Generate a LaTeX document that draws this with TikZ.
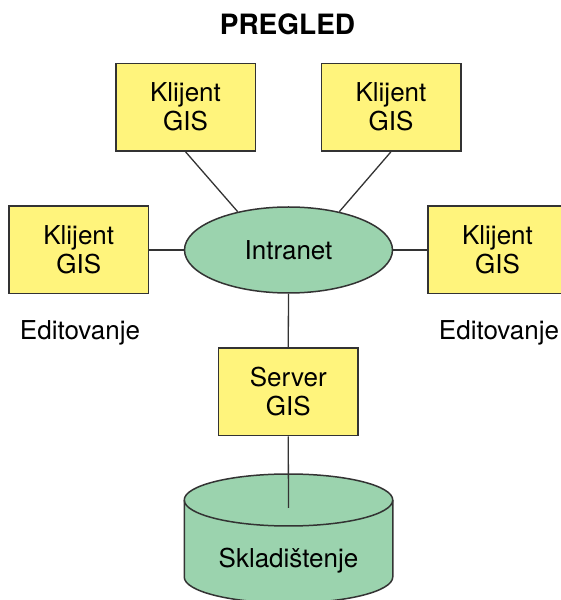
\documentclass[tikz,border=0pt]{standalone}
\usepackage{fontspec}
\setmainfont{TeX Gyre Heros}
\usetikzlibrary{shapes.geometric}
\definecolor{boxyellow}{HTML}{FFF47C}
\definecolor{netgreen}{HTML}{9BD3AE}
\definecolor{edgegray}{HTML}{333333}
\tikzset{
  gisbox/.style={draw=edgegray, line width=1.5pt, fill=boxyellow, minimum width=139.5pt, minimum height=87.5pt, inner sep=0pt, align=center, font=\fontsize{26}{29}\selectfont},
  netnode/.style={ellipse, draw=edgegray, line width=1.5pt, fill=netgreen, minimum width=208pt, minimum height=86pt, inner sep=0pt, font=\fontsize{26}{30}\selectfont},
  plaintext/.style={inner sep=0pt, font=\fontsize{26}{30}\selectfont},
  link/.style={draw=edgegray, line width=1.3pt}
}
\begin{document}
\begin{tikzpicture}[x=1pt, y=1pt]
\useasboundingbox (0,0) rectangle (561,600);
\fill[white] (0,0) rectangle (561,600);
\node[inner sep=0pt, font=\fontsize{28}{32}\bfseries] (title) at (287.5,576) {PREGLED};
% cylinder
\filldraw[fill=netgreen, draw=edgegray, line width=1.5pt]
  (184.25,100) -- (184.25,23) arc[start angle=180, end angle=360, x radius=104.25, y radius=26]
  -- (392.75,100) arc[start angle=0, end angle=180, x radius=104.25, y radius=26] -- cycle;
\draw[edgegray, line width=1.5pt] (184.25,100) arc[start angle=180, end angle=360, x radius=104.25, y radius=26];
\node[plaintext] (stor) at (288.5,39.5) {Skladištenje};
\coordinate (storin) at (288.5,92);
% nodes
\node[netnode] (ell) at (288.5,350) {Intranet};
\node[gisbox] (tl) at (185.5,492.75) {Klijent\\GIS};
\node[gisbox] (tr) at (391,492.75) {Klijent\\GIS};
\node[gisbox] (lb) at (78.75,350) {Klijent\\GIS};
\node[gisbox] (rb) at (497.5,350) {Klijent\\GIS};
\node[gisbox] (srv) at (288.25,208) {Server\\GIS};
\node[plaintext] (ed1) at (80,267) {Editovanje};
\node[plaintext] (ed2) at (499,267) {Editovanje};
% connectors
\draw[link] (tl.south) -- (ell.143);
\draw[link] (tr.south) -- (ell.37);
\draw[link] (lb.east) -- (ell.west);
\draw[link] (rb.west) -- (ell.east);
\draw[link] (ell.south) -- (srv.north);
\draw[link] (srv.south) -- (storin);
\end{tikzpicture}
\end{document}
